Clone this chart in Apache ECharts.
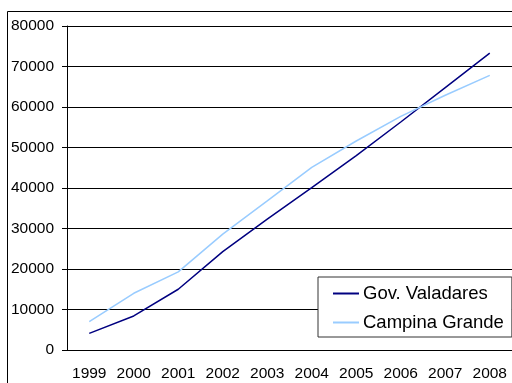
<!DOCTYPE html>
<html>
<head>
    <meta charset="UTF-8">
    <title>Gov. Valadares x Campina Grande</title>
    <script src="https://cdn.jsdelivr.net/npm/echarts@6/dist/echarts.min.js"></script>
    <style>
        html, body { margin: 0; padding: 0; background: #fff; }
        #box { width: 512px; height: 383px; }
    </style>
</head>
<body>
    <div id="box"></div>
    <script>
        // anos (eixo x)
        const years = ['1999', '2000', '2001', '2002', '2003', '2004', '2005', '2006', '2007', '2008']
        // valores
        const govValadares = [4100, 8400, 15000, 24300, 32300, 40100, 48000, 56300, 64800, 73300]
        const campinaGrande = [7000, 14000, 19300, 28600, 36800, 45100, 51600, 57700, 62900, 67800]
        const seriesNames = ['Gov. Valadares', 'Campina Grande']

        var myChart = echarts.init(document.getElementById('box'))
        var font = 'Liberation Sans, Arial, sans-serif'
        var option = {
            animation: false,
            backgroundColor: '#fff',
            // moldura externa
            graphic: [{
                type: 'rect',
                shape: { x: 7.5, y: 11.5, width: 620, height: 520 },
                style: { fill: 'none', stroke: '#000', lineWidth: 1 },
                z: 0
            }],
            grid: { left: 67, top: 26, width: 448, height: 324 },
            legend: {
                orient: 'vertical',
                left: 318,
                top: 277,
                padding: [7, 8, 5, 15],
                itemGap: 10,
                itemWidth: 26,
                itemHeight: 2,
                icon: 'rect',
                backgroundColor: '#fff',
                borderColor: '#333',
                borderWidth: 1,
                textStyle: { fontFamily: font, fontSize: 18.5, color: '#000', padding: [0, 0, 0, -1] },
                data: seriesNames
            },
            xAxis: {
                type: 'category',
                data: years,
                boundaryGap: true,
                axisLine: { lineStyle: { color: '#000', width: 1 } },
                axisTick: { length: 5, lineStyle: { color: '#000' } },
                axisLabel: { fontFamily: font, fontSize: 15.5, color: '#000', margin: 16, interval: 0 }
            },
            yAxis: {
                type: 'value',
                min: 0,
                max: 80000,
                interval: 10000,
                axisLine: { show: true, lineStyle: { color: '#000', width: 1 } },
                axisTick: { show: true, length: 5, lineStyle: { color: '#000' } },
                axisLabel: {
                    fontFamily: font, fontSize: 15.5, color: '#000', margin: 13,
                    formatter: function (v) { return String(v) }
                },
                splitLine: { lineStyle: { color: '#000', width: 1 } }
            },
            series: [{
                name: seriesNames[0],
                type: 'line',
                data: govValadares,
                symbol: 'none',
                color: '#000080',
                lineStyle: { width: 1.5, color: '#000080' }
            }, {
                name: seriesNames[1],
                type: 'line',
                data: campinaGrande,
                symbol: 'none',
                color: '#99ccff',
                lineStyle: { width: 1.5, color: '#99ccff' }
            }]
        }
        myChart.setOption(option)
    </script>
</body>
</html>
